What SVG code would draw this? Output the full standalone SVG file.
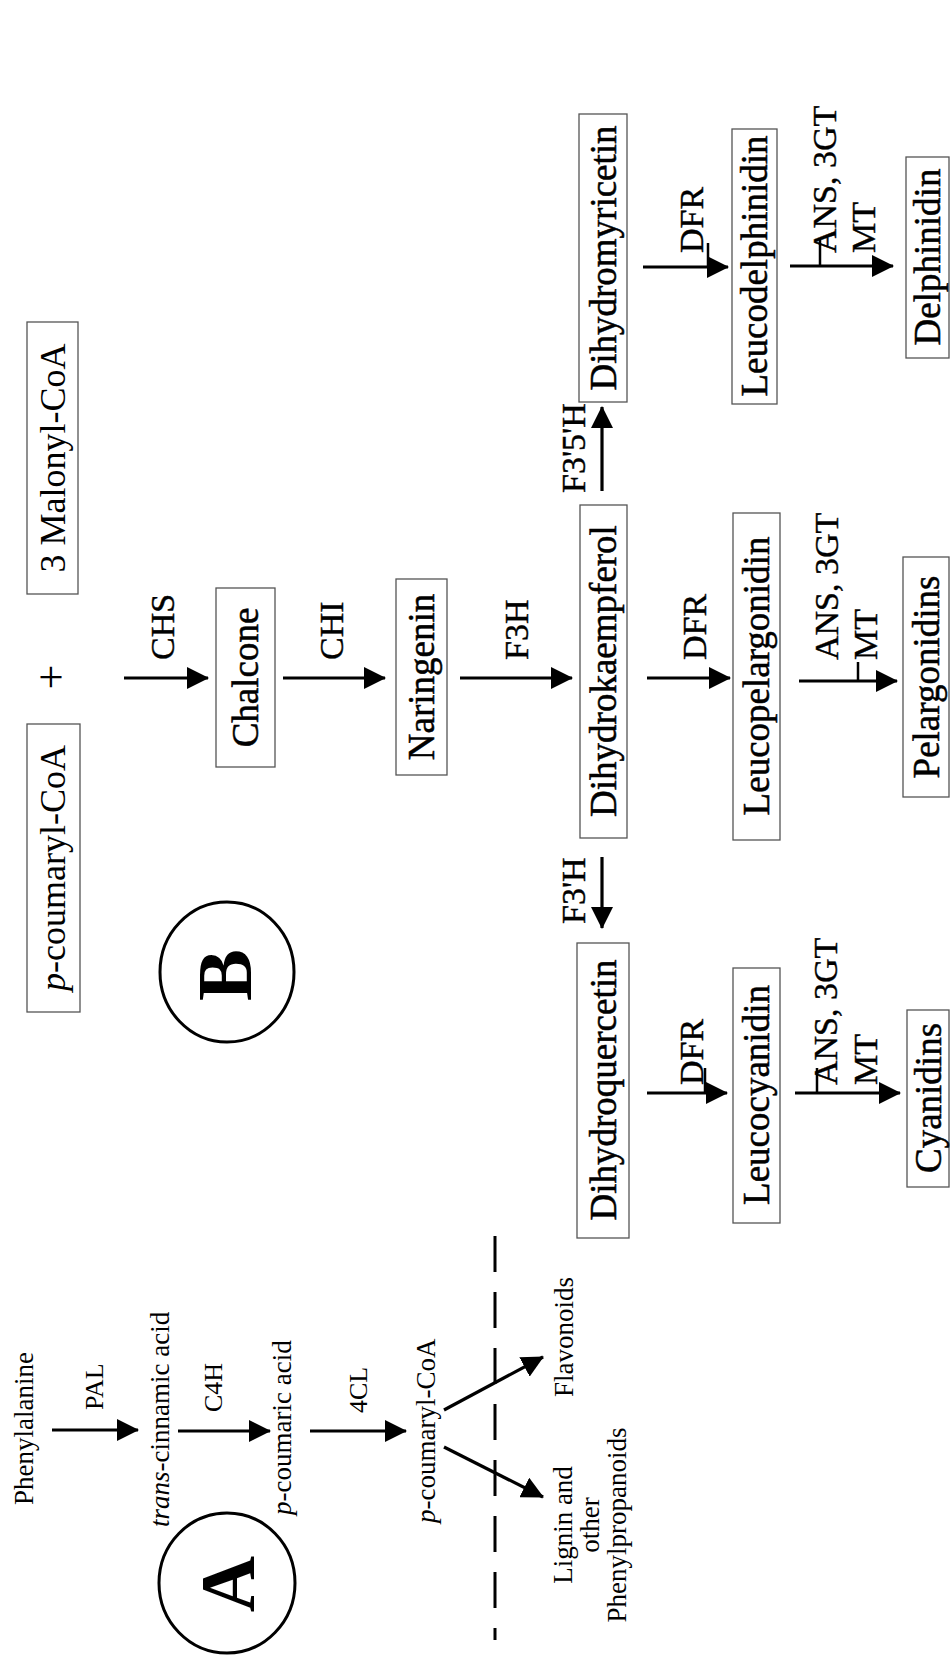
<svg xmlns="http://www.w3.org/2000/svg" width="950" height="1659" viewBox="0 0 950 1659">
<style>
.box{fill:none;stroke:#555;stroke-width:1.3}
.bt{font-family:"Liberation Serif",serif;font-size:37px;text-anchor:middle;fill:#000;stroke:#000;stroke-width:0.5}
.st{font-family:"Liberation Serif",serif;font-size:36px;text-anchor:middle;fill:#000}
.en{font-family:"Liberation Serif",serif;font-size:34px;fill:#000;stroke:#000;stroke-width:0.4}
.at{font-family:"Liberation Serif",serif;font-size:27px;fill:#000}
.am{font-family:"Liberation Serif",serif;font-size:27px;fill:#000;text-anchor:middle}
.big{font-family:"Liberation Serif",serif;font-size:78px;font-weight:bold;text-anchor:middle;fill:#000}
.arr{stroke:#000;stroke-width:3.2;fill:none;marker-end:url(#ah)}
.tick{stroke:#000;stroke-width:2.5;fill:none}
.ring{fill:none;stroke:#000;stroke-width:3}
.dash{stroke:#000;stroke-width:3;stroke-dasharray:36 20;fill:none}
</style>
<defs>
<marker id="ah" markerUnits="userSpaceOnUse" markerWidth="22" markerHeight="22" viewBox="0 0 22 22" refX="21" refY="11" orient="auto">
<path d="M0,0 L22,11 L0,22 z" fill="#000"/>
</marker>
</defs>
<rect width="950" height="1659" fill="#fff"/>

<g id="malonyl"><rect class="box" x="27" y="322" width="51" height="272"/><text class="st" transform="translate(65 458) rotate(-90)">3 Malonyl-CoA</text></g>
<g id="pcoumarylcoa-b"><rect class="box" x="27" y="724" width="53" height="288"/><text class="st" transform="translate(65 868) rotate(-90)"><tspan font-style="italic">p</tspan>-coumaryl-CoA</text></g>
<g id="plus"><text class="st" style="font-size:44px" transform="translate(66 677) rotate(-90)">+</text></g>
<g id="labelB"><ellipse class="ring" cx="227" cy="972" rx="67" ry="70"/><text class="big" transform="translate(251 975) rotate(-90)">B</text></g>

<g id="chalcone"><rect class="box" x="216" y="588" width="59" height="179"/><text class="bt" transform="translate(258 677.5) rotate(-90)">Chalcone</text></g>
<g id="naringenin"><rect class="box" x="396" y="579" width="51" height="196"/><text class="bt" transform="translate(434 677) rotate(-90)">Naringenin</text></g>
<g id="dihydrokaempferol"><rect class="box" x="580" y="505" width="47" height="333"/><text class="bt" transform="translate(616 671) rotate(-90)">Dihydrokaempferol</text></g>
<g id="leucopelargonidin"><rect class="box" x="733" y="513" width="47" height="327"/><text class="bt" transform="translate(769 676) rotate(-90)">Leucopelargonidin</text></g>
<g id="pelargonidins"><rect class="box" x="903" y="557" width="46" height="240"/><text class="bt" transform="translate(939 677) rotate(-90)">Pelargonidins</text></g>
<g id="dihydromyricetin"><rect class="box" x="579" y="114" width="48" height="288"/><text class="bt" transform="translate(616 258) rotate(-90)">Dihydromyricetin</text></g>
<g id="leucodelphinidin"><rect class="box" x="732" y="129" width="45" height="275"/><text class="bt" transform="translate(767 266) rotate(-90)">Leucodelphinidin</text></g>
<g id="delphinidin"><rect class="box" x="906" y="157" width="43" height="201"/><text class="bt" transform="translate(940 257) rotate(-90)">Delphinidin</text></g>
<g id="dihydroquercetin"><rect class="box" x="577" y="943" width="52" height="295"/><text class="bt" transform="translate(616 1090) rotate(-90)">Dihydroquercetin</text></g>
<g id="leucocyanidin"><rect class="box" x="733" y="968" width="47" height="255"/><text class="bt" transform="translate(769 1095) rotate(-90)">Leucocyanidin</text></g>
<g id="cyanidins"><rect class="box" x="907" y="1010" width="42" height="177"/><text class="bt" transform="translate(941 1098) rotate(-90)">Cyanidins</text></g>

<g id="phenylalanine"><text class="at" transform="translate(33 1505) rotate(-90)">Phenylalanine</text></g>
<g id="transcinnamic"><text class="at" transform="translate(169 1527) rotate(-90)"><tspan font-style="italic">trans</tspan>-cinnamic acid</text></g>
<g id="pcoumaric"><text class="at" transform="translate(291 1515) rotate(-90)"><tspan font-style="italic">p</tspan>-coumaric acid</text></g>
<g id="pcoumarylcoa-a"><text class="at" transform="translate(435 1523) rotate(-90)"><tspan font-style="italic">p</tspan>-coumaryl-CoA</text></g>
<g id="flavonoids"><text class="at" transform="translate(573 1397) rotate(-90)">Flavonoids</text></g>
<g id="lignin"><text class="am" transform="translate(572 1525) rotate(-90)">Lignin and</text><text class="am" transform="translate(599 1525) rotate(-90)">other</text><text class="am" transform="translate(626 1525) rotate(-90)">Phenylpropanoids</text></g>
<g id="labelA"><ellipse class="ring" cx="227" cy="1583" rx="68" ry="70"/><text class="big" transform="translate(254 1584) rotate(-90)">A</text></g>

<g id="connectors">
<path class="arr" d="M124,678 H208"/>
<path class="arr" d="M283,678 H385"/>
<path class="arr" d="M460,678 H572"/>
<path class="arr" d="M647,678 H730"/>
<path class="arr" d="M799,681 H897"/>
<path class="tick" d="M858,662 V681"/>
<path class="arr" d="M602,491 V407"/>
<path class="arr" d="M602,857 V928"/>
<path class="arr" d="M643,267 H728"/>
<path class="tick" d="M708,243 V267"/>
<path class="arr" d="M790,266 H893"/>
<path class="tick" d="M820,240 V266"/>
<path class="arr" d="M647,1093 H727"/>
<path class="tick" d="M705,1068 V1093"/>
<path class="arr" d="M795,1093 H900"/>
<path class="tick" d="M817,1068 V1093"/>
<path class="arr" d="M52,1430 H138"/>
<path class="arr" d="M178,1431 H270"/>
<path class="arr" d="M310,1431 H406"/>
<path class="arr" d="M444,1410 L543,1357"/>
<path class="arr" d="M444,1447 L543,1497"/>
<path class="dash" d="M495,1236 V1640"/>
<text class="en" transform="translate(174 660) rotate(-90)">CHS</text>
<text class="en" transform="translate(343 660) rotate(-90)">CHI</text>
<text class="en" transform="translate(528 660) rotate(-90)">F3H</text>
<text class="en" transform="translate(706 660) rotate(-90)">DFR</text>
<text class="en" transform="translate(838 660) rotate(-90)">ANS, 3GT</text>
<text class="en" transform="translate(877 660) rotate(-90)">MT</text>
<text class="en" transform="translate(585 493) rotate(-90)">F3'5'H</text>
<text class="en" transform="translate(585 924) rotate(-90)">F3'H</text>
<text class="en" transform="translate(703 253) rotate(-90)">DFR</text>
<text class="en" transform="translate(836 253) rotate(-90)">ANS, 3GT</text>
<text class="en" transform="translate(875 253) rotate(-90)">MT</text>
<text class="en" transform="translate(703 1085) rotate(-90)">DFR</text>
<text class="en" transform="translate(837 1085) rotate(-90)">ANS, 3GT</text>
<text class="en" transform="translate(877 1085) rotate(-90)">MT</text>
<text class="at" style="font-size:26px" transform="translate(103 1410) rotate(-90)">PAL</text>
<text class="at" style="font-size:26px" transform="translate(222 1412) rotate(-90)">C4H</text>
<text class="at" style="font-size:26px" transform="translate(367 1413) rotate(-90)">4CL</text>
</g>
</svg>
